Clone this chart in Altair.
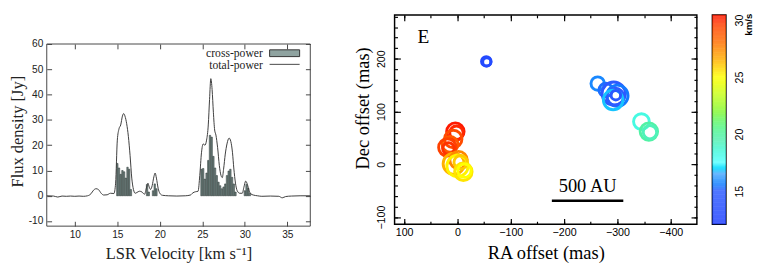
import altair as alt
import pandas as pd
import numpy as np

# ---------------- data: left panel (spectra) ----------------
tp_vel = [6.7, 7.5, 8.0, 8.5, 9.0, 9.5, 10.0, 10.5, 11.0, 11.5, 11.9, 12.2, 12.5, 12.8, 13.1, 13.4,
          13.8, 14.2, 14.6, 14.8, 15.0, 15.2, 15.4, 15.6, 15.75, 15.9, 16.1, 16.3, 16.5, 16.7, 16.9,
          17.1, 17.3, 17.6, 17.9, 18.2, 18.45, 18.6, 18.75, 18.9, 19.1, 19.3, 19.45, 19.6, 19.8, 20.0,
          20.3, 21.0, 22.0, 23.0, 23.6, 23.9, 24.2, 24.5, 24.7, 24.9, 25.1, 25.3, 25.5, 25.7, 25.85,
          26.0, 26.15, 26.3, 26.45, 26.6, 26.8, 27.0, 27.2, 27.35, 27.5, 27.7, 27.9, 28.15, 28.35,
          28.55, 28.7, 28.9, 29.1, 29.4, 29.7, 29.9, 30.1, 30.3, 30.5, 30.7, 31.0, 31.5, 32.0, 33.0,
          34.0, 34.4, 34.8, 35.5, 36.5, 37.7]
tp_flux = [0.0, -0.1, -0.5, -0.1, -0.2, -0.1, -0.2, -0.1, -0.2, 0.0, 0.8, 2.2, 2.8, 2.4, 1.0, 0.3,
           0.4, 1.0, 0.9, 5.0, 22.0, 26.5, 28.0, 31.5, 32.5, 31.5, 28.5, 23.5, 16.0, 7.0, 2.5,
           1.0, 1.3, 1.8, 1.5, 0.6, 3.5, 5.0, 3.5, 2.5, 4.0, 7.5, 9.0, 7.0, 3.0, 1.0,
           0.2, 0.0, -0.1, 0.0, 0.3, 1.2, 1.6, 1.8, 8.0, 17.0, 20.5, 20.0, 22.0, 28.0, 38.0,
           46.3, 42.0, 33.0, 26.0, 24.0, 19.0, 12.0, 8.0, 7.2, 10.5, 16.5, 20.5, 22.8, 21.5,
           17.0, 11.0, 5.0, 2.0, 1.0, 1.0, 3.5, 5.8, 4.5, 2.0, 0.8, 0.3, 0.0, -0.2, -0.1,
           -0.2, -0.8, -0.3, -0.1, 0.0, 0.0]

cp_vel = [15.0, 15.2, 15.4, 15.6, 15.8, 16.0, 16.2, 16.4, 16.6,
          18.5, 18.7,
          19.2, 19.4, 19.6,
          24.9, 25.1, 25.3, 25.5, 25.7, 25.9, 26.1, 26.3, 26.5, 26.7, 26.9, 27.1, 27.3, 27.5,
          27.7, 27.9, 28.1, 28.3, 28.5, 28.7, 28.9,
          30.0, 30.2, 30.4, 30.6]
cp_flux = [12.8, 11.0, 8.5, 10.0, 9.5, 7.0, 11.3, 10.5, 2.5,
           4.5, 1.5,
           2.0, 4.7, 2.8,
           10.5, 10.8, 6.6, 9.0, 14.0, 23.9, 23.2, 15.6, 11.0, 8.0, 5.4, 4.0, 2.8, 3.5,
           4.7, 8.0, 9.8, 10.5, 7.3, 4.7, 1.5,
           2.0, 4.5, 3.0, 1.0]

x_ticks_left = [10, 15, 20, 25, 30, 35]
y_ticks_left = [-10, 0, 10, 20, 30, 40, 50, 60]

# ---------------- data: right panel (maser spots) ----------------
spot_ra = [-54, -55,
           -263, -278, -293, -300, -296, -292, -297,
           -345, -359, -361,
           4, 2, 8, 14, 19, 17,
           7, -2, 0, -6, -11, -13]
spot_dec = [195, 194,
            153, 141, 134, 130, 128, 122, 131,
            81, 62, 61,
            62, 60, 48, 38, 32, 30,
            1, 8, -3, 4, -14, -12]
spot_vlsr = [13.0, 13.3,
             15.8, 15.3, 14.8, 15.5, 15.0, 16.8, 14.5,
             18.3, 19.8, 19.3,
             30.5, 30.0, 29.2, 28.8, 29.5, 29.8,
             26.5, 27.5, 25.2, 26.0, 25.5, 25.0]
spot_flux = [4, 3,
             8, 8, 24, 20, 13, 17, 4,
             11, 13.5, 8,
             13.5, 8, 13.5, 11, 13.5, 6,
             20, 13.5, 20, 8, 13.5, 8]

ra_ticks = [100, 0, -100, -200, -300, -400]
ra_minor = [100, 50, 0, -50, -100, -150, -200, -250, -300, -350, -400]
dec_ticks = [-100, 0, 100, 200]
dec_minor = list(range(-100, 281, 20))
cbar_ticks = [15, 20, 25, 30]

stop_v = [12, 15, 16.5, 17.5, 19.5, 21.8, 23.5, 25, 26.5, 28, 30, 31]
stop_c = ["#1f3cff", "#2f5cff", "#4aa8ff", "#55ffff", "#55f0b0", "#7cf83a",
          "#c8ff1a", "#ffff00", "#ffb000", "#ff7000", "#ff2800", "#ff0000"]

SANS = "Liberation Sans"
SERIF = "Liberation Serif"

# ---------------- left panel ----------------
# plot area is 218 px tall; the framed box covers -12..60 Jy (lower 188 px)
Y_TOP = 60 + 30 / (188 / 72.0)
cp_df = pd.DataFrame({"v": cp_vel, "f": cp_flux})
tp_df = pd.DataFrame({"v": tp_vel, "f": tp_flux})
one = pd.DataFrame({"a": [0]})

XL = alt.Scale(domain=[6.7, 37.7], nice=False, zero=False)
YL = alt.Scale(domain=[-12, Y_TOP], nice=False, zero=False)
lab = dict(labelFont=SANS, labelFontSize=10.5, labelColor="#222", tickColor="#444",
           domain=False, grid=False, labelExpr="replace(datum.label, '\u2212', '-')")

frame = alt.Chart(one).mark_rect(fill=None, stroke="#444", strokeWidth=1).encode(
    x=alt.X(datum=6.7, scale=XL, axis=None), x2=alt.datum(37.7),
    y=alt.Y(datum=-12, scale=YL, axis=None), y2=alt.datum(60),
)

bars = alt.Chart(cp_df).transform_calculate(
    v0="datum.v - 0.085", v1="datum.v + 0.085"
).mark_rect(fill="#6f8380", stroke="#27312f", strokeWidth=0.5).encode(
    x=alt.X("v0:Q", scale=XL, axis=alt.Axis(
        orient="bottom", values=x_ticks_left, offset=-5, tickSize=5, labelPadding=4,
        title="LSR Velocity [km s⁻¹]", titleFont=SERIF, titleFontSize=17,
        titleFontWeight="normal", titleColor="#222", titlePadding=6, **lab)),
    x2="v1:Q",
    y=alt.Y("f:Q", scale=YL, axis=alt.Axis(
        orient="left", values=y_ticks_left, offset=-5, tickSize=5, labelPadding=4,
        title="Flux density [Jy]", titleFont=SERIF, titleFontSize=17, titleY=120,
        titleFontWeight="normal", titleColor="#222", titlePadding=2, **lab)),
    y2=alt.datum(0),
)

line = alt.Chart(tp_df).mark_line(color="#3a3a3a", strokeWidth=1, interpolate="monotone").encode(
    x=alt.X("v:Q", scale=XL, axis=alt.Axis(
        orient="top", values=x_ticks_left, offset=-35, tickSize=5, labels=False, title=None, **lab)),
    y=alt.Y("f:Q", scale=YL, axis=alt.Axis(
        orient="right", values=y_ticks_left, offset=-5, tickSize=5, labels=False, title=None, **lab)),
)

leg1 = alt.Chart(one).mark_text(text="cross-power", align="right", baseline="middle",
                                font=SERIF, fontSize=12, color="#222").encode(
    x=alt.value(223), y=alt.value(39))
leg2 = alt.Chart(one).mark_text(text="total-power", align="right", baseline="middle",
                                font=SERIF, fontSize=12, color="#222").encode(
    x=alt.value(223), y=alt.value(52))
sw = alt.Chart(one).mark_rect(fill="#8fa3a0", stroke="#333", strokeWidth=1).encode(
    x=alt.value(230), x2=alt.value(261), y=alt.value(36), y2=alt.value(43))
rl = alt.Chart(one).mark_rule(color="#444", strokeWidth=1).encode(
    x=alt.value(230), x2=alt.value(261), y=alt.value(51))

left = alt.layer(frame, bars, line, leg1, leg2, sw, rl).resolve_axis(
    x="independent", y="independent"
).properties(
    width=272, height=218,
    view=alt.ViewBackground(stroke=None),
)

# ---------------- right panel ----------------
spot_df = pd.DataFrame({"ra": spot_ra, "dec": spot_dec, "v": spot_vlsr, "flux": spot_flux})
XR = alt.Scale(domain=[118, -449], nice=False, zero=False)
YR = alt.Scale(domain=[-113.4, 283], nice=False, zero=False)
CS = alt.Scale(domain=stop_v, range=stop_c)
rlab = dict(labelFont=SANS, labelFontSize=11, labelColor="black", tickColor="black",
            tickWidth=1.2, domain=False, grid=False)

spots = alt.Chart(spot_df).mark_point(shape="circle", filled=False, strokeWidth=3, opacity=1).encode(
    x=alt.X("ra:Q", scale=XR, axis=alt.Axis(
        orient="bottom", values=ra_ticks, offset=-6, tickSize=6, labelPadding=3,
        title="RA offset (mas)", titleFont=SERIF, titleFontSize=19, titleFontWeight="normal",
        titleColor="black", titlePadding=6, **rlab)),
    y=alt.Y("dec:Q", scale=YR, axis=alt.Axis(
        orient="left", values=dec_ticks, offset=-6, tickSize=6, labelPadding=8, labelAngle=270,
        title="Dec offset (mas)", titleFont=SERIF, titleFontSize=19, titleFontWeight="normal",
        titleColor="black", titlePadding=4, titleY=96, **rlab)),
    color=alt.Color("v:Q", scale=CS, legend=None),
    size=alt.Size("flux:Q", scale=alt.Scale(domain=[0, 24], range=[0, 576]), legend=None),
)

e_df = pd.DataFrame({"ra": [64], "dec": [240], "t": ["E"]})
e_txt = alt.Chart(e_df).mark_text(font=SERIF, fontSize=20, color="black").encode(
    x=alt.X("ra:Q", scale=XR, axis=alt.Axis(
        orient="bottom", values=ra_minor, offset=-3, tickSize=3, labels=False, title=None, **rlab)),
    y=alt.Y("dec:Q", scale=YR, axis=alt.Axis(
        orient="left", values=dec_minor, offset=-3, tickSize=3, labels=False, title=None, **rlab)),
    text="t:N",
)

bar_df = pd.DataFrame({"ra0": [-177], "ra1": [-311], "dec": [-69]})
sbar = alt.Chart(bar_df).mark_rule(color="black", strokeWidth=2.5).encode(
    x=alt.X("ra0:Q", scale=XR, axis=alt.Axis(
        orient="top", values=ra_ticks, offset=-6, tickSize=6, labels=False, title=None, **rlab)),
    x2="ra1:Q",
    y=alt.Y("dec:Q", scale=YR, axis=alt.Axis(
        orient="right", values=dec_ticks, offset=-6, tickSize=6, labels=False, title=None, **rlab)),
)

au_df = pd.DataFrame({"ra": [-244], "dec": [-42], "t": ["500 AU"]})
au_txt = alt.Chart(au_df).mark_text(font=SERIF, fontSize=19, color="black").encode(
    x=alt.X("ra:Q", scale=XR, axis=alt.Axis(
        orient="top", values=ra_minor, offset=-3, tickSize=3, labels=False, title=None, **rlab)),
    y=alt.Y("dec:Q", scale=YR, axis=alt.Axis(
        orient="right", values=dec_minor, offset=-3, tickSize=3, labels=False, title=None, **rlab)),
    text="t:N",
)

right = alt.layer(spots, e_txt, sbar, au_txt).resolve_axis(
    x="independent", y="independent"
).properties(
    width=312, height=216,
    view=alt.ViewBackground(stroke="black", strokeWidth=1.5),
)

# ---------------- colour bar ----------------
cb_df = pd.DataFrame({"v0": np.arange(12.1, 30.45, 0.05)})
cb_rect = alt.Chart(cb_df).transform_calculate(v1="datum.v0 + 0.06").mark_rect().encode(
    y=alt.Y("v0:Q", scale=alt.Scale(domain=[12.1, 30.45], nice=False, zero=False),
            axis=alt.Axis(orient="right", values=cbar_ticks, ticks=False, domain=False,
                          labelAngle=270, labelPadding=8, labelFont=SANS, labelFontSize=11,
                          labelColor="black", title=None, grid=False)),
    y2="v1:Q",
    color=alt.Color("v0:Q", scale=CS, legend=None),
)
cb_txt = alt.Chart(one).mark_text(text="km/s", angle=270, font=SANS, fontSize=10,
                                  fontWeight="bold", color="black", align="center",
                                  baseline="middle").encode(
    x=alt.value(38), y=alt.value(10))
cbar = alt.layer(cb_rect, cb_txt).properties(
    width=14, height=216,
    view=alt.ViewBackground(stroke="black", strokeWidth=1.5),
)

inner = alt.hconcat(right, cbar, spacing=13).resolve_scale(y="independent", color="independent")
chart = alt.hconcat(left, inner, spacing=42).resolve_scale(
    x="independent", y="independent", color="independent", size="independent"
).properties(padding={"left": 0, "top": 0, "right": 0, "bottom": 0})

chart.save("out.html", embed_options={"renderer": "svg", "actions": False})
